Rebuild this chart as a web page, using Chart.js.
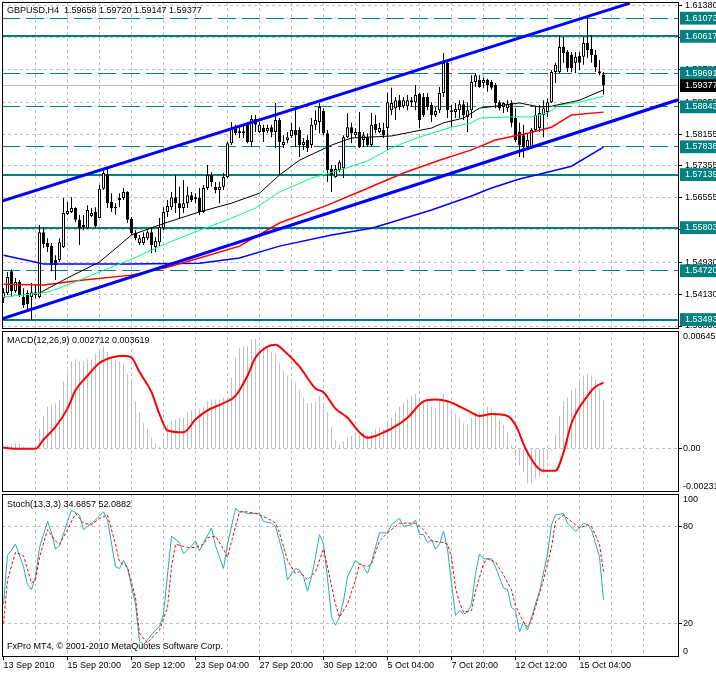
<!DOCTYPE html>
<html lang="en">
<head>
<meta charset="utf-8">
<title>GBPUSD,H4</title>
<script src="https://cdn.jsdelivr.net/npm/chart.js"></script>
<style>
  html, body { margin: 0; padding: 0; background: #ffffff; }
  body { position: relative; width: 716px; height: 673px; overflow: hidden; font-family: "Liberation Sans", Arial, sans-serif; }
  canvas { position: absolute; left: 0; }
  .caption { position: absolute; left: 7px; font-size: 9px; line-height: 11px; color: #000000; white-space: pre; }
</style>
</head>
<body>
<canvas id="price-chart" width="716" height="330" style="top:0px"></canvas>
<canvas id="macd-chart" width="716" height="164" style="top:329px"></canvas>
<canvas id="stoch-chart" width="716" height="181" style="top:492px"></canvas>
<div class="caption" style="top:5px">GBPUSD,H4  1.59658 1.59720 1.59147 1.59377</div>
<div class="caption" style="top:335px">MACD(12,26,9) 0.002712 0.003619</div>
<div class="caption" style="top:499px">Stoch(13,3,3) 34.6857 52.0882</div>
<div class="caption" style="top:641px">FxPro MT4, © 2001-2010 MetaQuotes Software Corp.</div>
<script>
// H4 bars, bar 1 = 13 Sep 2010 00:00
const firstBar = 1

const opens = [
  1.5403, 1.5416, 1.5471, 1.5421, 1.5444, 1.5406, 1.5416, 1.5406, 1.5418, 1.5406,
  1.5569, 1.5542, 1.5534, 1.5499, 1.5499, 1.5532, 1.5615, 1.5620, 1.5630, 1.5600,
  1.5587, 1.5579, 1.5610, 1.5620, 1.5605, 1.5678, 1.5715, 1.5645, 1.5632, 1.5650,
  1.5655, 1.5670, 1.5602, 1.5567, 1.5542, 1.5542, 1.5554, 1.5569, 1.5532, 1.5544,
  1.5579, 1.5620, 1.5632, 1.5657, 1.5642, 1.5630, 1.5642, 1.5662, 1.5652, 1.5655,
  1.5620, 1.5680, 1.5713, 1.5683, 1.5675, 1.5683, 1.5708, 1.5793, 1.5831, 1.5823,
  1.5818, 1.5839, 1.5796, 1.5854, 1.5821, 1.5831, 1.5823, 1.5833, 1.5821, 1.5851,
  1.5788, 1.5801, 1.5811, 1.5826, 1.5826, 1.5788, 1.5801, 1.5788, 1.5839, 1.5846,
  1.5874, 1.5818, 1.5728, 1.5708, 1.5725, 1.5730, 1.5808, 1.5833, 1.5813, 1.5821,
  1.5801, 1.5808, 1.5788, 1.5841, 1.5821, 1.5826, 1.5831, 1.5876, 1.5881, 1.5901,
  1.5886, 1.5886, 1.5901, 1.5896, 1.5917, 1.5909, 1.5909, 1.5889, 1.5864, 1.5876,
  1.5919, 1.5995, 1.5876, 1.5871, 1.5876, 1.5891, 1.5859, 1.5876, 1.5947, 1.5952,
  1.5944, 1.5952, 1.5947, 1.5939, 1.5896, 1.5884, 1.5881, 1.5894, 1.5856, 1.5821,
  1.5813, 1.5783, 1.5783, 1.5826, 1.5831, 1.5864, 1.5871, 1.5896, 1.5972, 1.5972,
  1.6035, 1.6022, 1.6015, 1.5995, 1.6012, 1.6010, 1.6045, 1.6030, 1.6015, 1.5974,
  1.59658,
]
const highs = [
  1.5428, 1.5469, 1.5476, 1.5454, 1.5449, 1.5428, 1.5423, 1.5441, 1.5436, 1.5587,
  1.5582, 1.5554, 1.5542, 1.5511, 1.5554, 1.5655, 1.5645, 1.5657, 1.5632, 1.5612,
  1.5612, 1.5637, 1.5630, 1.5632, 1.5688, 1.5728, 1.5730, 1.5667, 1.5642, 1.5667,
  1.5680, 1.5672, 1.5607, 1.5574, 1.5562, 1.5569, 1.5574, 1.5582, 1.5557, 1.5605,
  1.5632, 1.5650, 1.5670, 1.5713, 1.5683, 1.5700, 1.5683, 1.5670, 1.5667, 1.5680,
  1.5688, 1.5738, 1.5720, 1.5695, 1.5695, 1.5718, 1.5796, 1.5846, 1.5839, 1.5833,
  1.5839, 1.5846, 1.5864, 1.5864, 1.5846, 1.5839, 1.5839, 1.5839, 1.5894, 1.5856,
  1.5813, 1.5821, 1.5844, 1.5876, 1.5833, 1.5806, 1.5813, 1.5856, 1.5876, 1.5894,
  1.5881, 1.5826, 1.5738, 1.5738, 1.5750, 1.5813, 1.5869, 1.5844, 1.5831, 1.5871,
  1.5821, 1.5818, 1.5869, 1.5864, 1.5844, 1.5844, 1.5919, 1.5932, 1.5909, 1.5914,
  1.5909, 1.5914, 1.5909, 1.5939, 1.5919, 1.5919, 1.5919, 1.5896, 1.5884, 1.5934,
  1.6020, 1.5997, 1.5889, 1.5894, 1.5901, 1.5901, 1.5896, 1.5964, 1.5969, 1.5964,
  1.5959, 1.5955, 1.5952, 1.5944, 1.5901, 1.5896, 1.5901, 1.5901, 1.5881, 1.5844,
  1.5839, 1.5818, 1.5831, 1.5884, 1.5889, 1.5901, 1.5906, 1.5977, 1.5995, 1.6065,
  1.6060, 1.6027, 1.6022, 1.6022, 1.6022, 1.6060, 1.6108, 1.6065, 1.6027, 1.6002,
  1.59720,
]
const lows = [
  1.5391, 1.5411, 1.5406, 1.5416, 1.5406, 1.5378, 1.5368, 1.5348, 1.5403, 1.5403,
  1.5529, 1.5519, 1.5471, 1.5449, 1.5494, 1.5529, 1.5612, 1.5617, 1.5594, 1.5537,
  1.5574, 1.5577, 1.5607, 1.5579, 1.5605, 1.5675, 1.5630, 1.5620, 1.5612, 1.5632,
  1.5650, 1.5592, 1.5562, 1.5549, 1.5537, 1.5537, 1.5549, 1.5516, 1.5519, 1.5532,
  1.5574, 1.5607, 1.5625, 1.5617, 1.5605, 1.5617, 1.5630, 1.5645, 1.5642, 1.5612,
  1.5617, 1.5675, 1.5683, 1.5667, 1.5642, 1.5675, 1.5705, 1.5788, 1.5813, 1.5806,
  1.5806, 1.5793, 1.5783, 1.5821, 1.5818, 1.5796, 1.5818, 1.5808, 1.5781, 1.5713,
  1.5781, 1.5793, 1.5806, 1.5783, 1.5758, 1.5776, 1.5771, 1.5781, 1.5826, 1.5818,
  1.5813, 1.5695, 1.5670, 1.5705, 1.5720, 1.5705, 1.5806, 1.5793, 1.5806, 1.5781,
  1.5783, 1.5783, 1.5783, 1.5818, 1.5818, 1.5806, 1.5776, 1.5864, 1.5851, 1.5876,
  1.5881, 1.5876, 1.5884, 1.5876, 1.5831, 1.5859, 1.5876, 1.5846, 1.5859, 1.5869,
  1.5909, 1.5856, 1.5833, 1.5856, 1.5856, 1.5851, 1.5821, 1.5856, 1.5934, 1.5932,
  1.5932, 1.5922, 1.5927, 1.5881, 1.5876, 1.5869, 1.5871, 1.5833, 1.5796, 1.5758,
  1.5756, 1.5781, 1.5781, 1.5821, 1.5821, 1.5808, 1.5859, 1.5894, 1.5944, 1.5969,
  1.5995, 1.5972, 1.5972, 1.5969, 1.5977, 1.5990, 1.6007, 1.5995, 1.5972, 1.5964,
  1.59147,
]
const closes = [
  1.5418, 1.5456, 1.5421, 1.5444, 1.5411, 1.5386, 1.5388, 1.5418, 1.5411, 1.5569,
  1.5539, 1.5532, 1.5486, 1.5486, 1.5544, 1.5617, 1.5622, 1.5630, 1.5600, 1.5579,
  1.5582, 1.5625, 1.5617, 1.5584, 1.5678, 1.5718, 1.5642, 1.5630, 1.5630, 1.5655,
  1.5670, 1.5600, 1.5567, 1.5554, 1.5554, 1.5557, 1.5569, 1.5537, 1.5547, 1.5582,
  1.5620, 1.5635, 1.5657, 1.5642, 1.5630, 1.5642, 1.5662, 1.5650, 1.5657, 1.5620,
  1.5680, 1.5713, 1.5695, 1.5675, 1.5683, 1.5708, 1.5793, 1.5831, 1.5818, 1.5818,
  1.5823, 1.5796, 1.5854, 1.5839, 1.5839, 1.5821, 1.5831, 1.5821, 1.5851, 1.5796,
  1.5796, 1.5808, 1.5826, 1.5813, 1.5788, 1.5796, 1.5781, 1.5839, 1.5851, 1.5884,
  1.5818, 1.5725, 1.5713, 1.5728, 1.5745, 1.5808, 1.5833, 1.5818, 1.5821, 1.5783,
  1.5813, 1.5788, 1.5839, 1.5826, 1.5831, 1.5813, 1.5896, 1.5894, 1.5901, 1.5884,
  1.5901, 1.5901, 1.5896, 1.5914, 1.5851, 1.5864, 1.5884, 1.5864, 1.5874, 1.5919,
  1.5995, 1.5876, 1.5871, 1.5879, 1.5891, 1.5864, 1.5876, 1.5947, 1.5964, 1.5934,
  1.5952, 1.5939, 1.5932, 1.5894, 1.5881, 1.5894, 1.5891, 1.5844, 1.5801, 1.5788,
  1.5783, 1.5801, 1.5826, 1.5864, 1.5869, 1.5881, 1.5896, 1.5972, 1.5990, 1.6035,
  1.6020, 1.5982, 1.5982, 1.6010, 1.5995, 1.6045, 1.6027, 1.6015, 1.5984, 1.5969,
  1.59377,
]

// moving averages, [bar, price]
const maBlack = [[10, 1.5416], [17, 1.5454], [25, 1.5494], [33, 1.5562], [42, 1.5594], [50, 1.5620], [58, 1.5642], [65, 1.5667], [70, 1.5713], [75, 1.5750], [83, 1.5788], [88, 1.5806], [98, 1.5811], [103, 1.5821], [108, 1.5831], [111, 1.5844], [116, 1.5856], [120, 1.5881], [124, 1.5886], [130, 1.5894], [135, 1.5884], [138, 1.5886], [145, 1.5901], [151, 1.5927]]
const maLime = [[1, 1.5406], [12, 1.5418], [17, 1.5436], [25, 1.5469], [33, 1.5501], [42, 1.5542], [50, 1.5574], [57, 1.5600], [64, 1.5630], [70, 1.5670], [78, 1.5705], [85, 1.5725], [92, 1.5748], [98, 1.5781], [103, 1.5801], [108, 1.5818], [113, 1.5833], [118, 1.5844], [120, 1.5856], [128, 1.5859], [133, 1.5859], [137, 1.5869], [140, 1.5889], [145, 1.5896], [151, 1.5911]]
const maRed = [[1, 1.5438], [11, 1.5436], [21, 1.5449], [33, 1.5461], [42, 1.5481], [50, 1.5504], [60, 1.5534], [70, 1.5592], [82, 1.5637], [91, 1.5675], [101, 1.5718], [110, 1.5750], [118, 1.5776], [124, 1.5801], [132, 1.5818], [138, 1.5833], [143, 1.5864], [151, 1.5871]]
const maBlue = [[1, 1.5511], [8, 1.5496], [11, 1.5489], [33, 1.5489], [50, 1.5491], [60, 1.5504], [70, 1.5534], [83, 1.5562], [93, 1.5579], [98, 1.5594], [108, 1.5625], [118, 1.5660], [123, 1.5680], [130, 1.5703], [137, 1.5720], [143, 1.5735], [151, 1.5783]]

// trend channel end points, [bar, price]
const channelTop = [[0.625, 1.5647], [157.6, 1.6145]]
const channelBottom = [[0.625, 1.5351], [169.625, 1.5902]]

// horizontal levels
const solidLevels = [1.60617, 1.57139, 1.55803, 1.53493]
const dashedLevels = [1.61073, 1.59691, 1.58843, 1.57838, 1.54720]
const bidPrice = 1.59377

// price axis labels
const priceTicks = [1.5333, 1.5413, 1.5493, 1.55755, 1.56555, 1.57355, 1.58155, 1.58955, 1.5978, 1.6058, 1.6138]

// MACD(12,26,9): histogram per bar, signal line [bar, value]
const macdMain = [
  0.0001, 0.0002, 0.0002, 0.0003, 0.0003, 0.0001, 0.0000, 0.0000, 0.0001, 0.0011,
  0.0018, 0.0023, 0.0024, 0.0025, 0.0027, 0.0037, 0.0042, 0.0048, 0.0049, 0.0048,
  0.0048, 0.0049, 0.0049, 0.0052, 0.0054, 0.0056, 0.0053, 0.0050, 0.0049, 0.0048,
  0.0047, 0.0041, 0.0038, 0.0026, 0.0020, 0.0014, 0.0011, 0.0006, 0.0003, 0.0001,
  0.0006, 0.0013, 0.0015, 0.0016, 0.0017, 0.0017, 0.0020, 0.0021, 0.0022, 0.0022,
  0.0023, 0.0026, 0.0027, 0.0027, 0.0027, 0.0028, 0.0028, 0.0039, 0.0050, 0.0055,
  0.0056, 0.0056, 0.0060, 0.0060, 0.0055, 0.0056, 0.0055, 0.0053, 0.0052, 0.0047,
  0.0043, 0.0040, 0.0038, 0.0036, 0.0032, 0.0028, 0.0025, 0.0025, 0.0026, 0.0029,
  0.0024, 0.0020, 0.0012, 0.0005, 0.0002, 0.0004, 0.0006, 0.0007, 0.0009, 0.0008,
  0.0009, 0.0008, 0.0009, 0.0011, 0.0012, 0.0011, 0.0014, 0.0017, 0.0020, 0.0023,
  0.0025, 0.0027, 0.0029, 0.0030, 0.0028, 0.0026, 0.0026, 0.0023, 0.0022, 0.0026,
  0.0030, 0.0026, 0.0022, 0.0019, 0.0017, 0.0014, 0.0013, 0.0017, 0.0020, 0.0020,
  0.0022, 0.0023, 0.0022, 0.0020, 0.0016, 0.0013, 0.0009, 0.0002, -0.0004, -0.0009,
  -0.0013, -0.0019, -0.0019, -0.0016, -0.0015, -0.0013, -0.0005, -0.0001, 0.0008, 0.0018,
  0.0026, 0.0028, 0.0032, 0.0033, 0.0038, 0.0040, 0.0041, 0.0040, 0.0038, 0.0033,
  0.0027,
]
const macdSignal = [[0, 0.0001], [4, 0.0000], [9, 0.0000], [11, 0.0005], [14, 0.0012], [17, 0.0022], [19, 0.0032], [22, 0.0040], [25, 0.0047], [28, 0.0050], [31, 0.0051], [33, 0.0050], [35, 0.0042], [38, 0.0031], [40, 0.0019], [42, 0.0010], [46, 0.0009], [49, 0.0016], [52, 0.0021], [56, 0.0025], [59, 0.0029], [62, 0.0040], [64, 0.0050], [67, 0.0056], [69, 0.0057], [71, 0.0054], [75, 0.0045], [79, 0.0033], [81, 0.0031], [84, 0.0022], [87, 0.0017], [90, 0.0009], [92, 0.0006], [94, 0.0007], [96, 0.0009], [98, 0.0011], [102, 0.0017], [106, 0.0026], [109, 0.0027], [112, 0.0026], [117, 0.0021], [120, 0.0018], [123, 0.0019], [127, 0.0018], [129, 0.0013], [132, -0.0002], [136, -0.0012], [139, -0.0012], [141, -0.0002], [143, 0.0014], [147, 0.0029], [149, 0.0034], [151, 0.003619]]

// Stoch(13,3,3), [bar, value]
const stochMain = [[1, 32], [2, 62], [4, 69], [6, 55], [7, 44], [8, 41], [9, 49], [10, 67], [12, 83], [13, 76], [14, 66], [15, 68], [17, 83], [18, 90], [20, 87], [21, 78], [22, 80], [24, 84], [26, 89], [27, 84], [29, 55], [30, 54], [31, 59], [32, 54], [34, 32], [35, 9], [36, 7], [37, 10], [39, 16], [40, 18], [41, 26], [42, 50], [43, 74], [45, 70], [46, 63], [48, 68], [49, 71], [50, 65], [51, 70], [53, 79], [54, 68], [56, 54], [57, 69], [59, 91], [60, 89], [61, 89], [62, 88], [63, 88], [65, 88], [66, 83], [68, 82], [69, 80], [71, 62], [72, 47], [74, 54], [75, 53], [76, 49], [77, 40], [78, 49], [79, 61], [80, 75], [81, 69], [82, 48], [83, 24], [84, 19], [85, 24], [86, 34], [87, 49], [89, 59], [90, 57], [91, 55], [92, 51], [93, 58], [95, 76], [97, 76], [98, 81], [100, 85], [101, 80], [103, 81], [104, 84], [105, 75], [106, 75], [107, 70], [108, 72], [109, 66], [110, 69], [111, 77], [112, 66], [113, 45], [114, 25], [115, 28], [116, 26], [117, 27], [118, 32], [119, 51], [120, 63], [121, 60], [123, 60], [124, 55], [126, 42], [127, 41], [128, 30], [129, 28], [130, 15], [131, 21], [132, 16], [135, 40], [137, 63], [138, 81], [139, 87], [141, 88], [142, 82], [144, 77], [145, 79], [146, 82], [147, 81], [148, 78], [150, 61], [151, 34.69]]
const stochSignal = [[1, 20], [2, 47], [4, 64], [6, 62], [8, 45], [9, 47], [10, 61], [12, 78], [14, 71], [15, 69], [17, 78], [19, 88], [21, 82], [23, 81], [25, 85], [27, 87], [29, 69], [30, 58], [32, 55], [34, 36], [35, 14], [37, 8], [38, 11], [40, 16], [42, 30], [43, 55], [44, 69], [47, 67], [49, 67], [51, 69], [52, 73], [54, 74], [56, 66], [57, 61], [59, 80], [60, 89], [62, 89], [64, 88], [67, 85], [69, 82], [70, 76], [72, 59], [74, 51], [75, 52], [77, 47], [79, 52], [81, 66], [82, 55], [84, 32], [85, 24], [87, 32], [89, 47], [90, 57], [92, 55], [93, 57], [95, 71], [97, 76], [100, 82], [103, 82], [104, 82], [106, 78], [108, 71], [111, 70], [112, 69], [113, 61], [114, 42], [115, 33], [116, 27], [118, 28], [119, 40], [121, 57], [122, 60], [124, 58], [126, 50], [128, 41], [129, 31], [131, 21], [132, 18], [133, 22], [136, 47], [138, 67], [139, 83], [141, 87], [143, 83], [145, 79], [147, 81], [148, 80], [150, 69], [151, 52.09]]

// time axis labels
const timeLabelBars = [1, 17, 33, 49, 65, 81, 97, 113, 129, 145]
const timeLabels = ["13 Sep 2010", "15 Sep 20:00", "20 Sep 12:00", "23 Sep 04:00", "27 Sep 20:00", "30 Sep 12:00", "5 Oct 04:00", "7 Oct 20:00", "12 Oct 12:00", "15 Oct 04:00"]

const TEAL = "#008080"
const GRID = "#c0c0c0"
const CLEAR = "rgba(0,0,0,0)"
const xMin = 0.625
const xMax = 169.625

Chart.defaults.font.family = '"Liberation Sans", Arial, sans-serif'
Chart.defaults.font.size = 9
Chart.defaults.color = "#000000"

const toPoints = (pairs) => pairs.map(([x, y]) => ({ x, y }))

// vertical grid every 8 bars
const gridBars = []
for (let b = 9; b <= 161; b += 8) gridBars.push(b)
const timeTicks = [...new Set([...timeLabelBars, ...gridBars])].sort((a, b) => a - b)

function timeAxis(withLabels) {
  return {
    type: "linear",
    min: xMin,
    max: xMax,
    offset: false,
    afterBuildTicks: (scale) => {
      scale.ticks = timeTicks.map((value) => ({ value }))
    },
    afterFit: (scale) => {
      scale.height = withLabels ? 17 : 0
      scale.paddingLeft = 0
      scale.paddingRight = 0
    },
    grid: {
      offset: false,
      color: (ctx) => (gridBars.includes(ctx.tick.value) ? GRID : CLEAR),
      drawTicks: withLabels,
      tickLength: 4,
      tickColor: (ctx) => (timeLabelBars.includes(ctx.tick.value) ? "#000000" : CLEAR),
    },
    border: { display: false, dash: [3, 3] },
    ticks: {
      display: withLabels,
      autoSkip: false,
      maxRotation: 0,
      align: "start",
      padding: 0,
      callback: (value) => {
        const k = timeLabelBars.indexOf(value)
        return k < 0 ? "" : timeLabels[k]
      },
    },
  }
}

function sideAxis(extra) {
  return Object.assign({
    position: "right",
    afterFit: (scale) => {
      scale.width = 38
      scale.paddingTop = 0
      scale.paddingBottom = 0
    },
  }, extra)
}

const framePlugin = {
  id: "frame",
  afterDraw(chart) {
    const { ctx, chartArea: a } = chart
    ctx.save()
    ctx.strokeStyle = "#000000"
    ctx.lineWidth = 1
    ctx.strokeRect(a.left + 0.5, a.top + 0.5, a.right - a.left, a.bottom - a.top)
    ctx.restore()
  },
}

// top and bottom value of an indicator window
function edgeLabels(format) {
  return {
    id: "edgeLabels",
    afterDraw(chart) {
      const { ctx, chartArea: a, scales } = chart
      ctx.save()
      ctx.font = '9px "Liberation Sans", Arial, sans-serif'
      ctx.fillStyle = "#000000"
      ctx.textAlign = "left"
      ctx.textBaseline = "top"
      ctx.fillText(format(scales.y.max), a.right + 5, a.top + 1)
      ctx.textBaseline = "bottom"
      ctx.fillText(format(scales.y.min), a.right + 5, a.bottom)
      ctx.restore()
    },
  }
}

const baseOptions = {
  responsive: false,
  animation: false,
  events: [],
  plugins: { legend: { display: false }, tooltip: { enabled: false } },
}

// price window
const bars = closes.map((c, k) => firstBar + k)
const bodies = bars.map((b, k) => ({ x: b, y: [opens[k], closes[k]] }))
const wicks = bars.map((b, k) => ({ x: b, y: [lows[k], highs[k]] }))
const bodyColors = closes.map((c, k) => (c >= opens[k] ? "#ffffff" : "#000000"))
const isGridPrice = (v) => priceTicks.includes(v)
const levelColor = (v) => {
  if (isGridPrice(v) || v === bidPrice) return GRID
  return TEAL
}

const line = (data, color, width) => ({ data: toPoints(data), borderColor: color, borderWidth: width, pointRadius: 0 })

new Chart(document.getElementById("price-chart"), {
  type: "line",
  data: {
    datasets: [
      line(channelTop, "#0000ff", 3),
      line(channelBottom, "#0000ff", 3),
      line(maBlack, "#000000", 1),
      line(maLime, "#00ff7f", 1),
      line(maRed, "#ff0000", 1.5),
      line(maBlue, "#0000ff", 1.5),
      {
        type: "bar",
        data: bodies,
        backgroundColor: bodyColors,
        borderColor: "#000000",
        borderWidth: 1,
        borderSkipped: false,
        barThickness: 3,
        maxBarThickness: 3,
        minBarLength: 1,
        grouped: false,
        inflateAmount: 0,
      },
      {
        type: "bar",
        data: wicks,
        backgroundColor: "#000000",
        barThickness: 1,
        maxBarThickness: 1,
        grouped: false,
        inflateAmount: 0,
      },
    ],
  },
  options: {
    ...baseOptions,
    layout: { padding: { left: 2, top: 2, right: 0, bottom: 2 } },
    scales: {
      x: timeAxis(false),
      y: sideAxis({
        min: 1.5328,
        max: 1.6148,
        afterBuildTicks: (scale) => {
          scale.ticks = [...priceTicks, ...dashedLevels, ...solidLevels, bidPrice].map((value) => ({ value }))
        },
        grid: {
          color: (ctx) => levelColor(ctx.tick.value),
          lineWidth: (ctx) => (solidLevels.includes(ctx.tick.value) ? 2 : 1),
          tickLength: 4,
          tickColor: (ctx) => (isGridPrice(ctx.tick.value) ? "#000000" : CLEAR),
        },
        border: {
          display: false,
          dash: (ctx) => {
            if (isGridPrice(ctx.tick.value)) return [3, 3]
            if (dashedLevels.includes(ctx.tick.value)) return [18, 6]
            return []
          },
        },
        ticks: {
          autoSkip: false,
          padding: 3,
          callback: (value) => value.toFixed(5),
          color: (ctx) => (isGridPrice(ctx.tick.value) ? "#000000" : "#ffffff"),
          showLabelBackdrop: (ctx) => !isGridPrice(ctx.tick.value),
          backdropColor: (ctx) => (ctx.tick.value === bidPrice ? "#000000" : TEAL),
          backdropPadding: { left: 5, right: 8, top: 1, bottom: 1 },
        },
      }),
    },
  },
  plugins: [framePlugin],
})

// MACD window
new Chart(document.getElementById("macd-chart"), {
  type: "bar",
  data: {
    datasets: [
      {
        type: "line",
        data: toPoints(macdSignal),
        borderColor: "#ff0000",
        borderWidth: 2,
        pointRadius: 0,
        cubicInterpolationMode: "monotone",
      },
      {
        type: "bar",
        data: macdMain.map((v, k) => ({ x: firstBar + k, y: v })),
        backgroundColor: GRID,
        barThickness: 1,
        maxBarThickness: 1,
        grouped: false,
        inflateAmount: 0,
      },
    ],
  },
  options: {
    ...baseOptions,
    layout: { padding: { left: 2, top: 2, right: 0, bottom: 2 } },
    scales: {
      x: timeAxis(false),
      y: sideAxis({
        min: -0.00231,
        max: 0.00645,
        afterBuildTicks: (scale) => {
          scale.ticks = [{ value: 0 }]
        },
        grid: { color: GRID, tickLength: 4, tickColor: "#000000" },
        border: { display: false, dash: [3, 3] },
        ticks: { autoSkip: false, padding: 1, callback: () => "0.00" },
      }),
    },
  },
  plugins: [framePlugin, edgeLabels((v) => v.toFixed(5))],
})

// Stochastic window
new Chart(document.getElementById("stoch-chart"), {
  type: "line",
  data: {
    datasets: [
      { data: toPoints(stochSignal), borderColor: "#ff0000", borderWidth: 1, borderDash: [3, 2], pointRadius: 0 },
      { data: toPoints(stochMain), borderColor: "#20b2aa", borderWidth: 1, pointRadius: 0 },
    ],
  },
  options: {
    ...baseOptions,
    layout: { padding: { left: 2, top: 2, right: 0, bottom: 0 } },
    scales: {
      x: timeAxis(true),
      y: sideAxis({
        min: 0,
        max: 100,
        afterBuildTicks: (scale) => {
          scale.ticks = [{ value: 20 }, { value: 80 }]
        },
        grid: { color: GRID, tickLength: 4, tickColor: "#000000" },
        border: { display: false, dash: [3, 3] },
        ticks: { autoSkip: false, padding: 1 },
      }),
    },
  },
  plugins: [framePlugin, edgeLabels((v) => String(v))],
})
</script>
</body>
</html>
